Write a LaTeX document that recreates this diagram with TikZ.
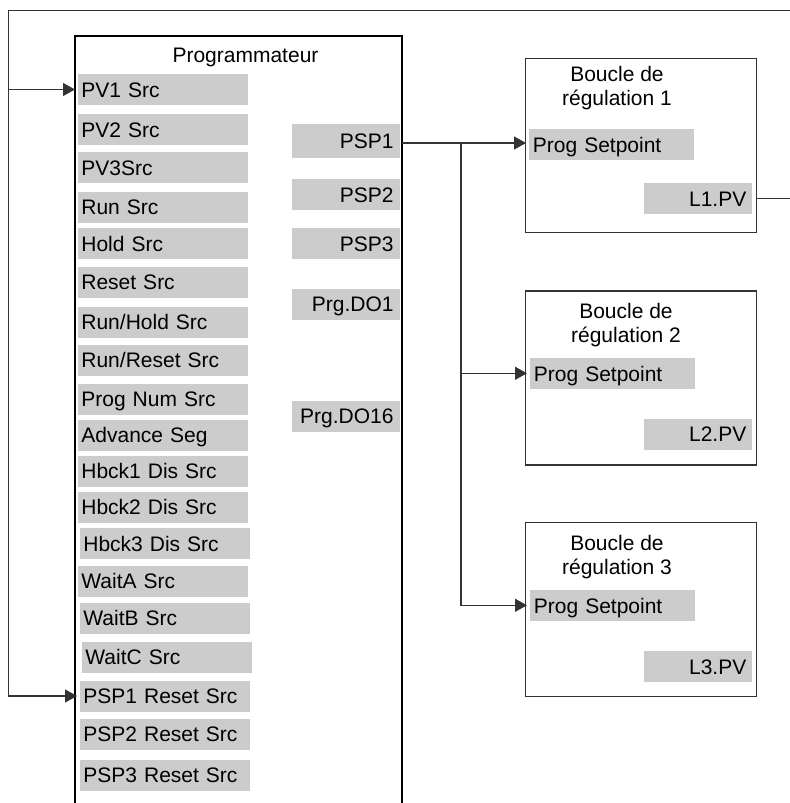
\documentclass[tikz,border=0pt]{standalone}
\usepackage{fontspec}
\setmainfont{Liberation Sans}
\usetikzlibrary{arrows.meta}
\definecolor{fieldgray}{HTML}{CCCCCC}
\definecolor{linegray}{HTML}{333333}
\tikzset{
  field/.style={fill=fieldgray, text height=9.8pt, text depth=2pt, inner ysep=0pt, minimum height=15.5pt},
  infield/.style={field, anchor=west, text width=82pt, inner xsep=1.5pt, align=left},
  outfield/.style={field, anchor=east, text width=48pt, inner xsep=3pt, align=right},
  spfield/.style={infield, text width=79pt, inner xsep=1.75pt},
  loopbox/.style={draw=linegray, line width=0.6pt, minimum width=115.5pt, minimum height=87pt},
  looptitle/.style={anchor=north, align=center, inner sep=0pt},
  link/.style={draw=linegray, line width=0.6pt},
  arr/.style={link, -{Triangle[length=6pt, width=6.5pt]}, shorten >=1.5pt}
}
\begin{document}
\begin{tikzpicture}[x=0.5pt, y=-0.5pt, every node/.style={font=\fontsize{10.5}{12}\selectfont}]
  \useasboundingbox (0,0) rectangle (790,803);

  % Programmateur
  \draw[line width=0.9pt] (75,803) |- (402,36) -- (402,803);
  \node[anchor=base] (progtitle) at (245.5,62.7) {Programmateur};

  % inputs
  \node[infield] (pv1) at (78,89.5) {PV1 Src};
  \node[infield] (pv2) at (78,129.5) {PV2 Src};
  \node[infield] (pv3) at (78,167.5) {PV3Src};
  \node[infield] (run) at (78,207) {Run Src};
  \node[infield] (hold) at (78,243.7) {Hold Src};
  \node[infield] (reset) at (78,282) {Reset Src};
  \node[infield] (runhold) at (78,322) {Run/Hold Src};
  \node[infield] (runreset) at (78,360) {Run/Reset Src};
  \node[infield] (prognum) at (78,399) {Prog Num Src};
  \node[infield] (advseg) at (78,435) {Advance Seg};
  \node[infield] (hbck1) at (78,471) {Hbck1 Dis Src};
  \node[infield] (hbck2) at (78,507) {Hbck2 Dis Src};
  \node[infield] (hbck3) at (80,543.7) {Hbck3 Dis Src};
  \node[infield] (waita) at (78,581) {WaitA Src};
  \node[infield] (waitb) at (80,618) {WaitB Src};
  \node[infield] (waitc) at (82,657) {WaitC Src};
  \node[infield] (rst1) at (80,696) {PSP1 Reset Src};
  \node[infield] (rst2) at (80,734) {PSP2 Reset Src};
  \node[infield] (rst3) at (80,775) {PSP3 Reset Src};

  % outputs
  \node[outfield, minimum height=16.8pt] (psp1) at (400,141) {PSP1};
  \node[outfield] (psp2) at (400,194.7) {PSP2};
  \node[outfield] (psp3) at (400,243.5) {PSP3};
  \node[outfield] (do1) at (400,304) {Prg.DO1};
  \node[outfield] (do16) at (400,416) {Prg.DO16};

  % loops
  \node[loopbox] (loop1) at (641,145.5) {};
  \node[loopbox] (loop2) at (641.2,378) {};
  \node[loopbox] (loop3) at (641.2,609.7) {};
  \node[looptitle] (title1) at (617,66) {Boucle de\\régulation 1};
  \node[looptitle] (title2) at (626,302.5) {Boucle de\\régulation 2};
  \node[looptitle] (title3) at (617,535) {Boucle de\\régulation 3};
  \node[spfield] (sp1) at (529,144.5) {Prog Setpoint};
  \node[spfield] (sp2) at (530,373.3) {Prog Setpoint};
  \node[spfield] (sp3) at (530,605.3) {Prog Setpoint};
  \node[outfield] (l1pv) at (752.7,198.3) {L1.PV};
  \node[outfield] (l2pv) at (752.7,434) {L2.PV};
  \node[outfield] (l3pv) at (752.7,666.3) {L3.PV};

  % setpoint links
  \coordinate (split) at (461,143);
  \draw[arr] (402,143) -- (sp1.west |- split);
  \draw[arr] (split) |- (sp3.west);
  \draw[arr] (split |- sp2.west) -- (sp2.west);

  % feedback
  \coordinate (fbr) at (791,10.5);
  \coordinate (fbl) at (8.3,10.5);
  \draw[link] (loop1.east |- l1pv.east) -| (fbr) -- (fbl);
  \draw[arr] (fbl) |- (rst1.west);
  \draw[arr] (fbl |- pv1.west) -- (pv1.west);
\end{tikzpicture}
\end{document}
